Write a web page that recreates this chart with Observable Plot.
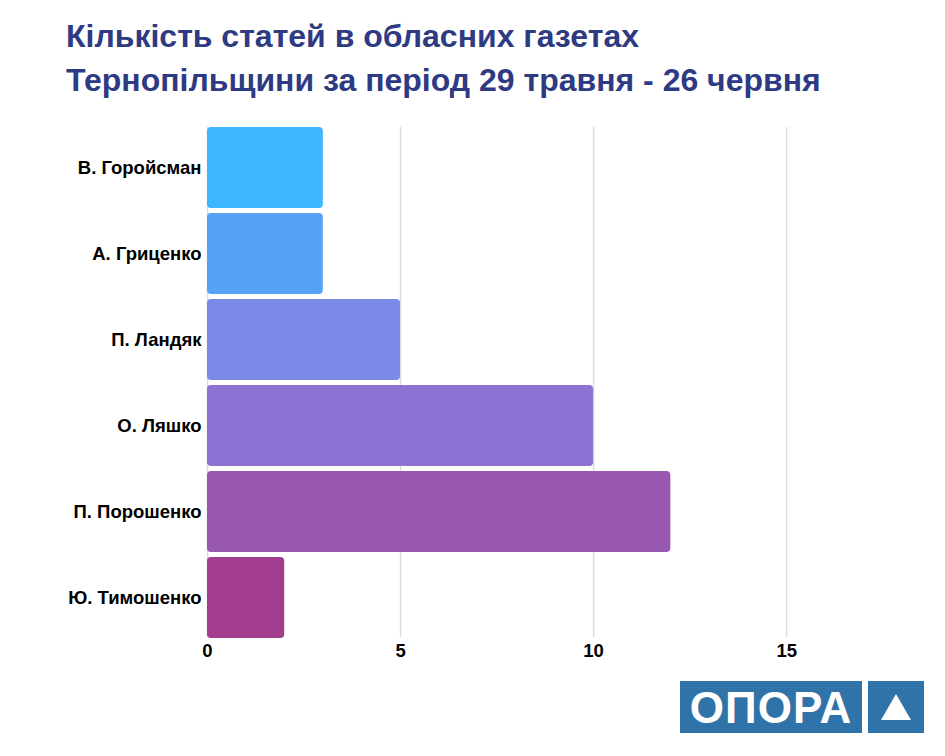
<!DOCTYPE html>
<html><head><meta charset="utf-8">
<script src="https://cdn.jsdelivr.net/npm/d3@7"></script>
<script src="https://cdn.jsdelivr.net/npm/@observablehq/plot@0.6"></script>
<style>
body{margin:0;background:#fff;font-family:"Liberation Sans",Arial,sans-serif;width:945px;height:756px;position:relative;overflow:hidden}
h1{position:absolute;left:66px;top:14px;margin:0;font-size:32px;line-height:44px;color:#2e3a82;font-weight:bold}
#chart{position:absolute;left:0;top:117px}
#chart text{font-size:18.5px;font-weight:bold}
#logo{position:absolute;left:680px;top:681px;display:flex;gap:6px}
#logo .a{background:#2f73a8;color:#fff;font-weight:bold;font-size:44px;width:182px;height:52px;line-height:54px;text-align:center;letter-spacing:1px}
#logo .b{background:#2f73a8;width:56px;height:52px;display:flex;align-items:center;justify-content:center}
</style></head><body>
<h1>Кількість статей в обласних газетах<br>Тернопільщини за період 29 травня - 26 червня</h1>
<div id="chart"></div>
<div id="logo"><div class="a">ОПОРА</div><div class="b"><svg width="34" height="30"><polygon points="17,2 32,28 2,28" fill="#fff"/></svg></div></div>
<script>
const names=["В. Горойсман","А. Гриценко","П. Ландяк","О. Ляшко","П. Порошенко","Ю. Тимошенко"];
const values=[3,3,5,10,12,2];
const colors=["#3bb6ff","#58a2f5","#7a8ae6","#8b72d3","#9858b2","#a33d8e"];
const xTicks=[0,5,10,15];
const data=names.map((n,i)=>({name:n,value:values[i],color:colors[i]}));
const chart=Plot.plot({
 width:945,height:550,marginLeft:207,marginRight:43,marginTop:10,marginBottom:30,
 style:{fontFamily:"Liberation Sans, Arial, sans-serif",fontSize:"17px",fontWeight:"bold",color:"#000"},
 x:{domain:[0,18],ticks:xTicks,label:null},
 y:{domain:names,label:null,paddingInner:0.06,paddingOuter:0,range:[7,523]},
 marks:[
  Plot.ruleX(xTicks,{stroke:"#ddd",strokeWidth:1.5}),
  Plot.barX(data,{x:"value",y:"name",fill:d=>d.color,rx:4}),
  Plot.axisY({tickSize:0,tickPadding:6}),
  Plot.axisX({ticks:xTicks,tickSize:0,tickPadding:6})
 ]
});
document.getElementById("chart").append(chart);
</script></body></html>
